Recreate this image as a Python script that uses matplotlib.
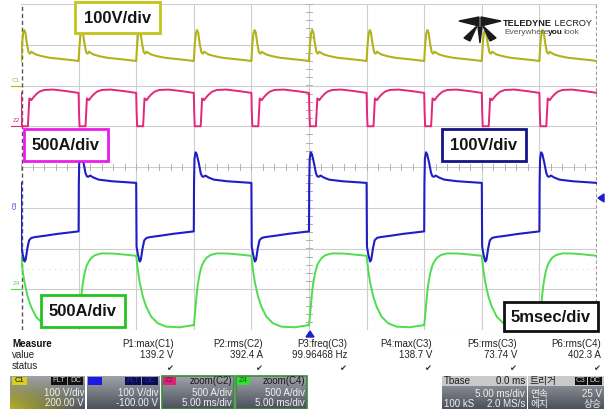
import numpy as np
import matplotlib.pyplot as plt
from matplotlib.patches import Rectangle, Polygon

plt.rcParams['font.family'] = ['Liberation Sans', 'DejaVu Sans']

# ---- waveform data (one period each, times in ms) ----
# C1: 100 V/div, 5 ms period, template starts at the switching edge
C1_T = [0.0, 0.08, 0.18, 0.28, 0.38, 0.5, 0.65, 0.78, 0.9, 1.05, 1.3, 1.8, 2.5, 3.5, 4.5, 5.0]
C1_V = [60, 100, 128, 136, 130, 105, 82, 78, 83, 80, 76, 72, 68, 65, 62, 60]
C1_EDGES = [0, 5, 10, 15, 20, 25, 30, 35, 40, 45]

# Z2 = zoom(C2): 500 A/div
Z2_T = [0.0, 0.03, 0.08, 0.6, 0.65, 0.72, 0.8, 0.9, 1.05, 1.3, 1.6, 2.0, 2.8, 4.0, 5.0]
Z2_A = [409, 200, 0, 0, 150, 340, 335, 320, 350, 390, 425, 445, 450, 430, 409]
Z2_EDGES = [0, 5, 10, 15, 20, 25, 30, 35, 40, 45]

# C3: 100 V/div, 10 ms period, template starts at falling edge
C3_T = [0.0, 0.03, 0.15, 0.3, 0.4, 0.55, 0.7, 0.9, 1.2, 2.0, 3.2, 4.97,
        5.0, 5.02, 5.06, 5.15, 5.25, 5.43, 5.6, 5.72, 5.85, 6.0, 6.3, 6.74, 7.9, 9.92, 10.0]
C3_V = [61, -95, -115, -132, -128, -100, -80, -74, -72, -69, -64, -58,
        -58, 60, 120, 136, 132, 110, 85, 77, 76, 79, 74, 69, 65, 61, 61]
C3_EDGES = [0, 10, 20, 30, 40]

# Z4 = zoom(C4): 500 A/div
Z4_T = [0.0, 0.14, 0.29, 0.58, 0.87, 1.3, 1.88, 2.6, 3.76, 4.97,
        5.0, 5.1, 5.23, 5.35, 5.52, 5.7, 5.87, 6.1, 6.45, 7.0, 8.0, 9.0, 10.0]
Z4_A = [410, 236, 93, -91, -214, -337, -418, -459, -467, -440,
        -445, -300, -91, 60, 196, 290, 338, 385, 420, 440, 438, 425, 410]
Z4_EDGES = [0, 10, 20, 30, 40]

# measurement table
MEAS_NAMES = ["P1:max(C1)", "P2:rms(C2)", "P3:freq(C3)", "P4:max(C3)", "P5:rms(C3)", "P6:rms(C4)"]
MEAS_VALUES = ["139.2 V", "392.4 A", "99.96468 Hz", "138.7 V", "73.74 V", "402.3 A"]

W, H = 608, 409
fig = plt.figure(figsize=(W / 100, H / 100), dpi=100)
fig.patch.set_facecolor('white')

# scope graticule (pixel bounds)
X0, X1, Y0, Y1 = 21, 597, 4, 330
ax = fig.add_axes([X0 / W, 1 - Y1 / H, (X1 - X0) / W, (Y1 - Y0) / H])
ax.set_xlim(0, 50)
ax.set_ylim(-4, 4)
ax.set_xticks([])
ax.set_yticks([])
for s in ax.spines.values():
    s.set_visible(False)

for x in range(5, 50, 5):
    ax.axvline(x, color='#cdcdcd', lw=0.8, zorder=1)
for y in range(-4, 5):
    ax.axhline(y, color='#cdcdcd', lw=0.8, zorder=1)
ax.axhline(-2.5, color='#d8d8d8', lw=0.8, ls=(0, (1, 4)), zorder=1)
ax.axvline(0.05, color='#555555', lw=1.0, ls=(0, (3, 2)), zorder=2)
ax.axvline(49.95, color='#999999', lw=0.8, ls=(0, (3, 2)), zorder=2)
# small ticks on centre lines
for x in np.arange(0, 50.01, 1.0):
    ax.plot([x, x], [-0.07, 0.07], color='#b0b0b0', lw=0.7, zorder=1)
for y in np.arange(-4, 4.01, 0.2):
    ax.plot([24.75, 25.25], [y, y], color='#b0b0b0', lw=0.7, zorder=1)


def trace(edges, t_tpl, v_tpl, scale, pos):
    t = np.concatenate([e + np.asarray(t_tpl, float) for e in edges])
    v = np.tile(np.asarray(v_tpl, float), len(edges))
    return t, v / scale + pos


t, y = trace(C1_EDGES, C1_T, C1_V, 100, 2)
ax.plot(t, y, color='#b2b21c', lw=1.5, zorder=3)
t, y = trace(Z2_EDGES, Z2_T, Z2_A, 500, 1)
ax.plot(t, y, color='#e3267a', lw=1.4, zorder=3)
t, y = trace(C3_EDGES, C3_T, C3_V, 100, -1)
ax.plot(t, y, color='#1e1ec4', lw=1.5, zorder=3)
t, y = trace(Z4_EDGES, Z4_T, Z4_A, 500, -3)
ax.plot(t, y, color='#4fdc4f', lw=1.4, zorder=3)

# ---- overlay in pixel coordinates ----
ov = fig.add_axes([0, 0, 1, 1])
ov.set_xlim(0, W)
ov.set_ylim(H, 0)
ov.axis('off')
ov.patch.set_alpha(0)

def label_box(x0, y0, x1, y1, color, text):
    ov.add_patch(Rectangle((x0, y0), x1 - x0, y1 - y0, fc='white', ec=color, lw=2.0, zorder=5))
    ov.text((x0 + x1) / 2, (y0 + y1) / 2 + 1, text, ha='center', va='center',
            fontsize=12, fontweight='bold', color='#151515', zorder=6)

label_box(75, 2, 160, 33, '#c4c41a', '100V/div')
label_box(24, 129, 108, 161, '#e81ee8', '500A/div')
label_box(442, 129, 526, 161, '#141488', '100V/div')
label_box(41, 295, 125, 327, '#22c422', '500A/div')
label_box(504, 302, 598, 331, '#111111', '5msec/div')

# channel markers on the left
for txt, yy, col in [("C1", 86, '#b2b21c'), ("Z2", 126, '#e3267a'), ("Z4", 289, '#4fdc4f')]:
    ov.text(16, yy - 3, txt, fontsize=4.5, color=col, ha='center', va='bottom')
    ov.plot([11, 21], [yy, yy], color=col, lw=0.8)
ov.text(15, 205, "C3", fontsize=4.5, color='#1e1ec4', rotation=90, ha='center', va='center')
ov.add_patch(Polygon([(310, 331), (306, 337), (314, 337)], color='#1e1ec4'))
ov.add_patch(Polygon([(598, 198), (604, 194), (604, 202)], color='#1e1ec4'))

# logo
lc = '#1a1a1a'
for pts in [[(459, 21), (479, 17), (479, 26)], [(501, 21), (481, 17), (481, 26)],
            [(478, 27), (482, 27), (480, 43)], [(477, 26), (464, 38), (470, 41)],
            [(483, 26), (496, 38), (490, 41)]]:
    ov.add_patch(Polygon(pts, color=lc))

renderer = fig.canvas.get_renderer()
inv = ov.transData.inverted()


def run_text(x, y, parts, size, gap=0.0):
    # place text pieces one after another
    for s, weight, col in parts:
        tx = ov.text(x, y, s, fontsize=size, fontweight=weight, color=col, ha='left', va='center')
        bb = tx.get_window_extent(renderer=renderer)
        x = inv.transform((bb.x1, bb.y0))[0] + gap

run_text(503, 23, [("TELEDYNE", 'bold', lc), (" LECROY", 'normal', lc)], 6.6)
run_text(504, 32, [("Everywhere", 'normal', '#555555'), ("you", 'bold', lc),
                   ("look", 'normal', '#555555')], 6.0)

# measurement table
ov.text(12, 344, "Measure", fontsize=7, fontweight='bold', color='#111', va='center')
ov.text(12, 355, "value", fontsize=7, color='#222', va='center')
ov.text(12, 366, "status", fontsize=7, color='#222', va='center')
col_right = [174, 263, 347, 432, 517, 601]
for xr, name, val in zip(col_right, MEAS_NAMES, MEAS_VALUES):
    ov.text(xr, 344, name, fontsize=7, color='#222', ha='right', va='center')
    ov.text(xr, 355, val, fontsize=7, color='#222', ha='right', va='center')
    ov.text(xr - 4, 368, "\u2714", fontsize=6, color='#333', ha='center', va='center',
            family='DejaVu Sans')


def panel(x0, x1, y0=376, y1=409, tint=None, edge=None):
    ny, nx = 20, 20
    gy = np.linspace(0, 1, ny)[:, None]
    gx = np.linspace(0, 1, nx)[None, :]
    top = np.array([0.62, 0.63, 0.66])
    bot = np.array([0.30, 0.32, 0.36])
    img = top[None, None, :] * (1 - gy[..., None]) + bot[None, None, :] * gy[..., None]
    img = np.broadcast_to(img, (ny, nx, 3)).copy()
    if tint is not None:
        w = (gy * (1 - gx))[..., None] * 0.85
        img = img * (1 - w) + np.array(tint)[None, None, :] * w
    ov.imshow(img, extent=(x0, x1, y1, y0), aspect='auto', zorder=2, interpolation='bilinear')
    if edge:
        ov.add_patch(Rectangle((x0, y0), x1 - x0, y1 - y0, fc='none', ec=edge, lw=1.2, zorder=3))


def tag(x0, x1, y0, y1, fc, text='', tc='#111'):
    ov.add_patch(Rectangle((x0, y0), x1 - x0, y1 - y0, fc=fc, ec='none', zorder=4))
    if text:
        ov.text((x0 + x1) / 2, (y0 + y1) / 2, text, fontsize=5.5, color=tc,
                ha='center', va='center', zorder=5)


def wtext(x, y, s, ha='right', color='#f0f0f0', **kw):
    ov.text(x, y, s, fontsize=7, color=color, ha=ha, va='center', zorder=5, **kw)

# C1 descriptor
panel(10, 85, tint=(0.78, 0.75, 0.1))
tag(12, 27, 377, 385, '#d8d020', 'C1')
tag(51, 67, 377, 385, '#111111', 'FLT', '#cccccc')
tag(68, 83, 377, 385, '#111111', 'DC', '#cccccc')
wtext(84, 393, "100 V/div")
wtext(84, 403, "200.00 V")
# C3 descriptor
panel(87, 160)
tag(88, 102, 377, 385, '#1a1ae0')
tag(125, 141, 377, 385, '#0c0c50', 'FLT', '#2a2ab0')
tag(142, 158, 377, 385, '#0c0c50', 'DC', '#2a2ab0')
wtext(158, 393, "100 V/div")
wtext(158, 403, "-100.00 V")
# Z2 descriptor
panel(162, 234, edge='#3c8a3c')
tag(163, 176, 377, 385, '#e0207a', 'Z2', '#801040')
wtext(232, 381, "zoom(C2)", color='#1a1a1a')
wtext(232, 393, "500 A/div")
wtext(232, 403, "5.00 ms/div")
# Z4 descriptor
panel(236, 307, edge='#3c8a3c')
tag(237, 250, 377, 385, '#30e030', 'Z4', '#106010')
wtext(305, 381, "zoom(C4)", color='#1a1a1a')
wtext(305, 393, "500 A/div")
wtext(305, 403, "5.00 ms/div")
# timebase
panel(442, 527)
tag(442, 527, 376, 386, '#c9c9c9')
wtext(444, 381, "Tbase", ha='left', color='#1a1a1a')
wtext(525, 381, "0.0 ms", color='#1a1a1a')
wtext(525, 394, "5.00 ms/div")
wtext(444, 404, "100 kS", ha='left')
wtext(525, 404, "2.0 MS/s")
# trigger
kr = ['Noto Sans CJK KR', 'DejaVu Sans']
panel(528, 604)
tag(528, 604, 376, 386, '#c9c9c9')
ov.text(530, 381, "트리거", fontsize=7, color='#1a1a1a', ha='left', va='center', zorder=5, family=kr)
tag(575, 587, 377, 385, '#111111', 'C3', '#cccccc')
tag(588, 602, 377, 385, '#111111', 'DC', '#cccccc')
ov.text(530, 394, "연속", fontsize=7, color='#f0f0f0', ha='left', va='center', zorder=5, family=kr)
wtext(602, 394, "25 V")
ov.text(530, 404, "에지", fontsize=7, color='#f0f0f0', ha='left', va='center', zorder=5, family=kr)
ov.text(602, 404, "상승", fontsize=7, color='#f0f0f0', ha='right', va='center', zorder=5, family=kr)

fig.savefig('out.png', dpi=100)
